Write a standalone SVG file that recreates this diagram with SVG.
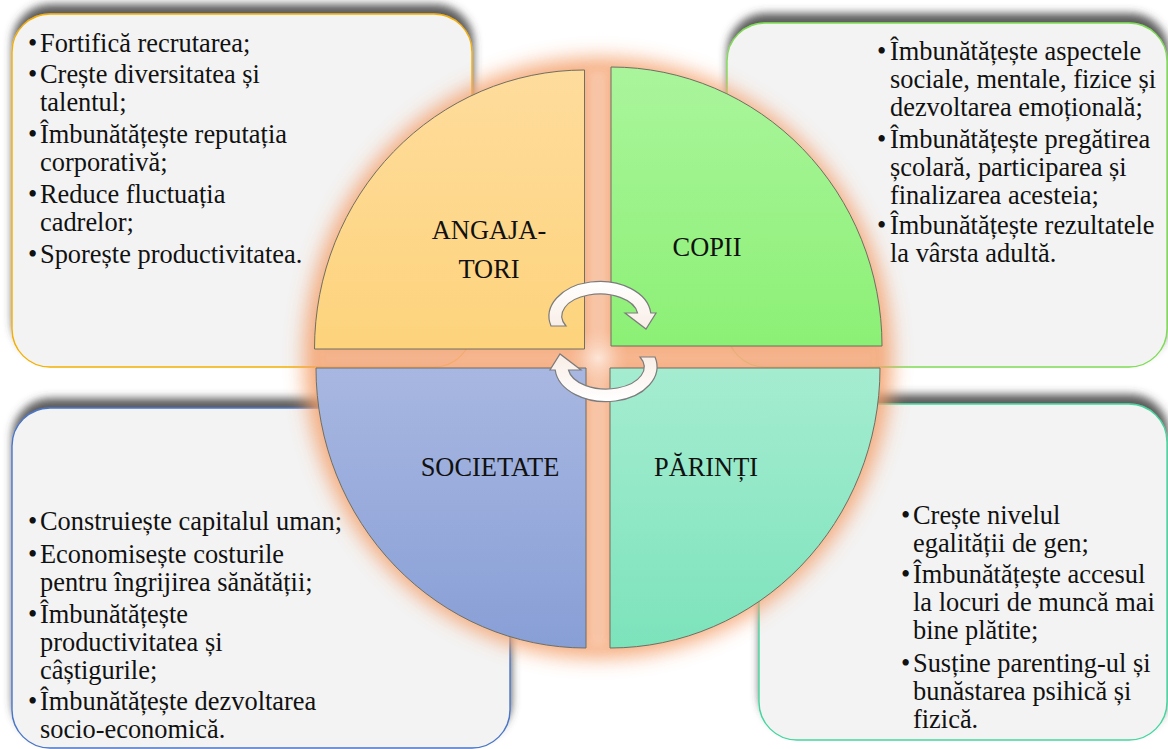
<svg xmlns="http://www.w3.org/2000/svg" width="1168" height="749" viewBox="0 0 1168 749">
<style>
.box{fill:#f3f3f3;stroke-width:1.4;filter:url(#shadow)}
.t{font-family:"Liberation Serif",Tinos,"Times New Roman",Times,serif;font-size:26.4px;fill:#111}
.lbl{font-family:"Liberation Serif",Tinos,"Times New Roman",Times,serif;font-size:26.4px;fill:#111;text-anchor:middle}
.q{stroke:#6f6f62;stroke-width:1}
.arr{fill:url(#ga);stroke:#7c7c7c;stroke-width:1.2}
</style>
<defs>
<filter id="shadow" x="-10%" y="-14%" width="120%" height="128%">
<feDropShadow dx="1" dy="-9" stdDeviation="4" flood-color="#404040" flood-opacity="0.85"/>
</filter>
<filter id="glow" x="-20%" y="-20%" width="140%" height="140%">
<feGaussianBlur stdDeviation="10"/>
</filter>
<filter id="soft" x="-50%" y="-50%" width="200%" height="200%">
<feGaussianBlur stdDeviation="4"/>
</filter>
<linearGradient id="gTL" x1="0" y1="0" x2="0" y2="1"><stop offset="0" stop-color="#fedc9c"/><stop offset="1" stop-color="#fdd37c"/></linearGradient>
<linearGradient id="gTR" x1="0" y1="0" x2="0" y2="1"><stop offset="0" stop-color="#aaf59c"/><stop offset="1" stop-color="#8cf075"/></linearGradient>
<linearGradient id="gBL" x1="0" y1="0" x2="0" y2="1"><stop offset="0" stop-color="#a8b7e1"/><stop offset="1" stop-color="#889fd6"/></linearGradient>
<linearGradient id="gBR" x1="0" y1="0" x2="0" y2="1"><stop offset="0" stop-color="#a5ecd1"/><stop offset="1" stop-color="#7ce3bb"/></linearGradient>
<radialGradient id="gC"><stop offset="0" stop-color="#fde3d3"/><stop offset="1" stop-color="#f9c4a6" stop-opacity="0"/></radialGradient>
<linearGradient id="ga" x1="0" y1="0" x2="0" y2="1"><stop offset="0" stop-color="#ffffff"/><stop offset="1" stop-color="#f8ede6"/></linearGradient>
</defs>

<g id="box-angajatori">
<rect class="box" x="12" y="14" width="460" height="353" rx="38" stroke="#f3b000"/>
<text class="t"><tspan x="28" y="52">•</tspan><tspan x="40" y="52">Fortifică recrutarea;</tspan></text>
<text class="t"><tspan x="28" y="83">•</tspan><tspan x="40" y="83">Crește diversitatea și</tspan></text>
<text class="t" x="40" y="111">talentul;</text>
<text class="t"><tspan x="28" y="143">•</tspan><tspan x="40" y="143">Îmbunătățește reputația</tspan></text>
<text class="t" x="40" y="171">corporativă;</text>
<text class="t"><tspan x="28" y="203">•</tspan><tspan x="40" y="203">Reduce fluctuația</tspan></text>
<text class="t" x="40" y="231">cadrelor;</text>
<text class="t"><tspan x="28" y="263">•</tspan><tspan x="40" y="263">Sporește productivitatea.</tspan></text>
</g>

<g id="box-copii">
<rect class="box" x="727" y="23" width="440" height="344" rx="38" stroke="#7fdc55"/>
<text class="t"><tspan x="877" y="60">•</tspan><tspan x="890" y="60">Îmbunătățește aspectele</tspan></text>
<text class="t" x="890" y="88">sociale, mentale, fizice și</text>
<text class="t" x="890" y="116">dezvoltarea emoțională;</text>
<text class="t"><tspan x="877" y="148">•</tspan><tspan x="890" y="148">Îmbunătățește pregătirea</tspan></text>
<text class="t" x="890" y="176">școlară, participarea și</text>
<text class="t" x="890" y="204">finalizarea acesteia;</text>
<text class="t"><tspan x="877" y="234">•</tspan><tspan x="890" y="234">Îmbunătățește rezultatele</tspan></text>
<text class="t" x="890" y="262">la vârsta adultă.</text>
</g>

<g id="box-societate">
<rect class="box" x="12" y="408" width="498" height="340" rx="38" stroke="#4a76c6"/>
<text class="t"><tspan x="28" y="530">•</tspan><tspan x="40" y="530">Construiește capitalul uman;</tspan></text>
<text class="t"><tspan x="28" y="563">•</tspan><tspan x="40" y="563">Economisește costurile</tspan></text>
<text class="t" x="40" y="591">pentru îngrijirea sănătății;</text>
<text class="t"><tspan x="28" y="623">•</tspan><tspan x="40" y="623">Îmbunătățește</tspan></text>
<text class="t" x="40" y="651">productivitatea și</text>
<text class="t" x="40" y="679">câștigurile;</text>
<text class="t"><tspan x="28" y="710">•</tspan><tspan x="40" y="710">Îmbunătățește dezvoltarea</tspan></text>
<text class="t" x="40" y="738">socio-economică.</text>
</g>

<g id="box-parinti">
<rect class="box" x="759" y="404" width="408" height="336" rx="38" stroke="#44d6a0"/>
<text class="t"><tspan x="901" y="524">•</tspan><tspan x="913" y="524">Crește nivelul</tspan></text>
<text class="t" x="913" y="552">egalității de gen;</text>
<text class="t"><tspan x="901" y="583">•</tspan><tspan x="913" y="583">Îmbunătățește accesul</tspan></text>
<text class="t" x="913" y="611">la locuri de muncă mai</text>
<text class="t" x="913" y="639">bine plătite;</text>
<text class="t"><tspan x="901" y="672">•</tspan><tspan x="913" y="672">Susține parenting-ul și</tspan></text>
<text class="t" x="913" y="700">bunăstarea psihică și</text>
<text class="t" x="913" y="728">fizică.</text>
</g>

<g id="glow" opacity="0.88">
<ellipse cx="598" cy="358" rx="294" ry="300" fill="#f4a06c" filter="url(#glow)"/>
<rect x="587" y="70" width="22" height="578" fill="#f9c3a4" filter="url(#soft)" opacity="0.85"/>
<rect x="320" y="348" width="556" height="20" fill="#f7b792" filter="url(#soft)" opacity="0.5"/>
<ellipse cx="598" cy="358" rx="30" ry="30" fill="url(#gC)"/>
</g>

<g id="q-angajatori">
<path class="q" d="M584.5,349 L314.5,349 A270,279 0 0 1 584.5,70 Z" fill="url(#gTL)"/>
<text class="lbl" x="489" y="239">ANGAJA-</text>
<text class="lbl" x="489" y="278">TORI</text>
</g>
<g id="q-copii">
<path class="q" d="M611,346 L611,67 A271,279 0 0 1 882,346 Z" fill="url(#gTR)"/>
<text class="lbl" x="707" y="256">COPII</text>
</g>
<g id="q-societate">
<path class="q" d="M586,368 L586,648 A270,280 0 0 1 316,368 Z" fill="url(#gBL)"/>
<text class="lbl" x="490" y="476">SOCIETATE</text>
</g>
<g id="q-parinti">
<path class="q" d="M610,368 L880,368 A270,280 0 0 1 610,648 Z" fill="url(#gBR)"/>
<text class="lbl" x="706" y="476">PĂRINȚI</text>
</g>

<g id="connectors">
<path id="arrow-top" class="arr" d="M551,326 A51,35 0 1 1 650.8,313 L656,313 L646,329 L625,313 L637.5,313 A38,22 0 1 0 566,326 Z"/>
<path id="arrow-bottom" class="arr" transform="rotate(180 603 341.5)" d="M551,326 A51,35 0 1 1 650.8,313 L656,313 L646,329 L625,313 L637.5,313 A38,22 0 1 0 566,326 Z"/>
</g>
</svg>
